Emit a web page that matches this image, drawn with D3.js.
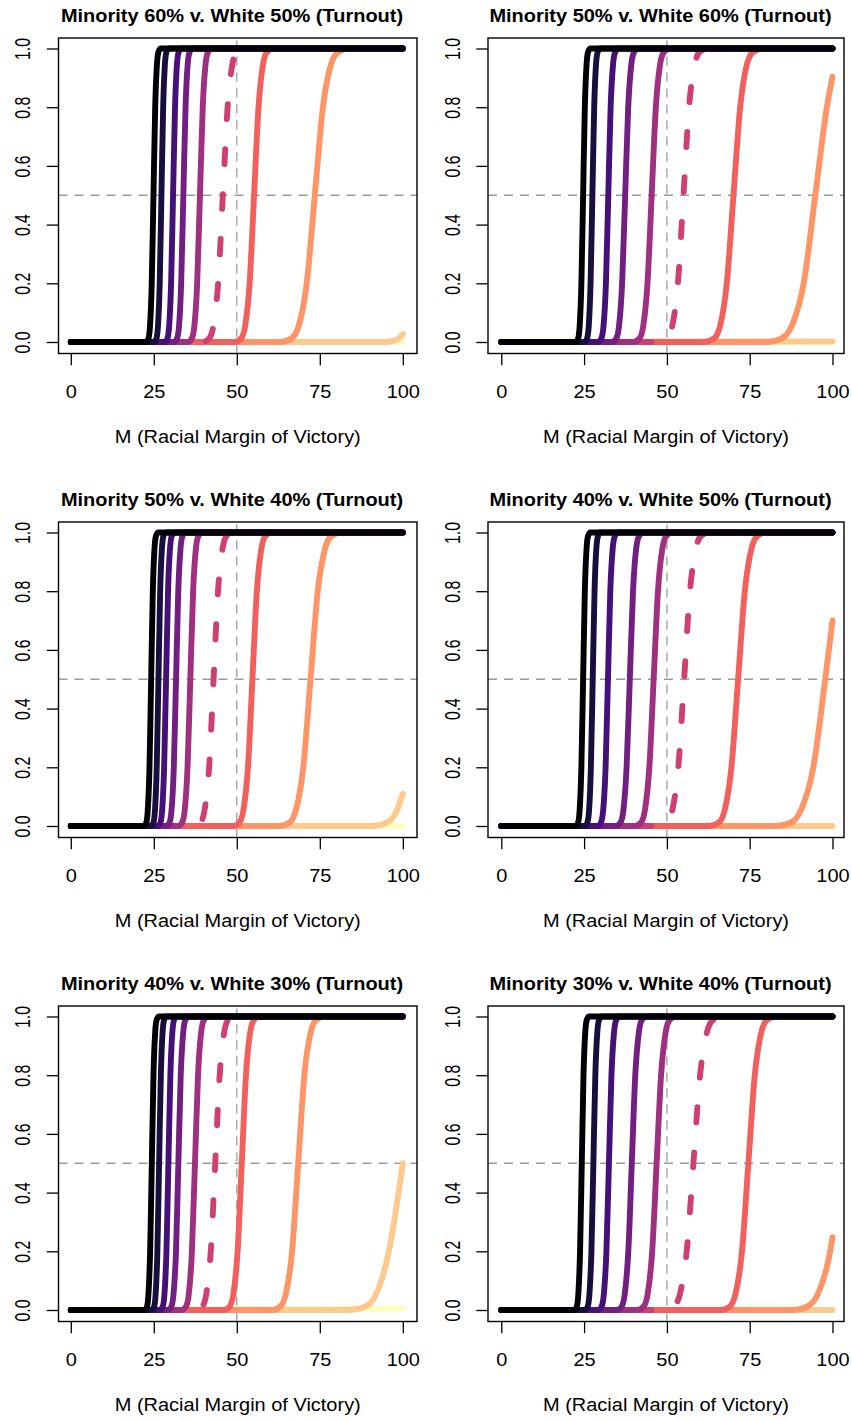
<!DOCTYPE html>
<html><head><meta charset="utf-8">
<script src="https://cdn.jsdelivr.net/npm/d3@7"></script>
<style>body{margin:0;background:#fff}svg{display:block}</style>
</head><body>
<script>
// ---------------- data ----------------
const panelTitles = [
  "Minority 60% v. White 50% (Turnout)",
  "Minority 50% v. White 60% (Turnout)",
  "Minority 50% v. White 40% (Turnout)",
  "Minority 40% v. White 50% (Turnout)",
  "Minority 40% v. White 30% (Turnout)",
  "Minority 30% v. White 40% (Turnout)"
];
const xAxisTitle = "M (Racial Margin of Victory)";
const xTickValues = [0, 25, 50, 75, 100];
const yTickValues = [0, 0.2, 0.4, 0.6, 0.8, 1.0];
const yTickLabels = ["0.0", "0.2", "0.4", "0.6", "0.8", "1.0"];
const curveColors = ["#000004", "#180F3E", "#451077", "#721F81", "#9F2F7F",
                     "#CD4071", "#F1605D", "#FD9567", "#FEC98D", "#FCFDBF"];
const dashedCurve = 5;
const refP = 0.5, refM = 50;

const pLevels = [0, 0.012, 0.055, 0.2, 0.5, 0.8, 0.945, 0.988, 1];

// A curve is either a list of M values (one per pLevel) or a list of [M, P] pairs.
const panel1Curves = [
  [22.7, 23.4, 23.86, 24.38, 24.9, 25.42, 25.94, 26.4, 27.1],
  [25.1, 25.8, 26.26, 26.78, 27.3, 27.82, 28.34, 28.8, 29.5],
  [28.3, 29.1, 29.63, 30.21, 30.8, 31.39, 31.97, 32.5, 33.3],
  [31.1, 32.0, 32.6, 33.24, 33.9, 34.56, 35.2, 35.8, 36.7],
  [35.3, 36.45, 37.22, 38.06, 38.9, 39.74, 40.58, 41.35, 42.5],
  [39.7, 41.65, 42.95, 44.37, 45.8, 47.23, 48.65, 49.95, 51.9],
  [49.5, 51.3, 52.52, 53.86, 55.2, 56.54, 57.88, 59.1, 60.9],
  [63.2, 66.4, 68.65, 71.06, 73.5, 75.94, 78.35, 80.6, 83.8],
  [[0,0],[94,0],[97,0.004],[99,0.014],[100,0.027]],
  [[0,0],[100,0.001]]
];
const panel2Curves = [
  [22.5, 23.2, 23.66, 24.18, 24.7, 25.22, 25.74, 26.2, 26.9],
  [25.2, 25.9, 26.41, 26.95, 27.5, 28.05, 28.59, 29.1, 29.8],
  [29.2, 30.2, 30.87, 31.59, 32.3, 33.01, 33.73, 34.4, 35.4],
  [33.4, 34.7, 35.55, 36.48, 37.4, 38.32, 39.25, 40.1, 41.4],
  [39.9, 41.7, 42.87, 44.14, 45.4, 46.66, 47.93, 49.1, 50.9],
  [47.7, 50.1, 51.63, 53.32, 55.0, 56.68, 58.37, 59.9, 62.3],
  [61.3, 64.2, 66.07, 68.08, 70.1, 72.12, 74.13, 76.0, 78.9],
  [[0,0],[80.5,0],[84.6,0.012],[87.7,0.055],[91.3,0.2],[94.8,0.5],[98.3,0.8],[100,0.904]],
  [[0,0],[100,0.002]],
  [[0,0],[100,0]]
];
const panel3Curves = [
  [22.0, 22.75, 23.19, 23.7, 24.2, 24.7, 25.21, 25.65, 26.4],
  [24.2, 24.9, 25.36, 25.88, 26.4, 26.92, 27.44, 27.9, 28.6],
  [26.2, 27.0, 27.52, 28.11, 28.7, 29.29, 29.88, 30.4, 31.2],
  [28.8, 29.75, 30.35, 31.03, 31.7, 32.37, 33.05, 33.65, 34.6],
  [32.4, 33.55, 34.32, 35.16, 36.0, 36.84, 37.68, 38.45, 39.6],
  [37.2, 39.1, 40.3, 41.66, 43.0, 44.34, 45.7, 46.9, 48.8],
  [48.9, 50.8, 52.0, 53.36, 54.7, 56.04, 57.4, 58.6, 60.5],
  [62.9, 65.9, 67.82, 70.02, 72.2, 74.38, 76.58, 78.5, 81.5],
  [[0,0],[91,0],[95,0.01],[98.1,0.05],[100,0.11]],
  [[0,0],[100,0.001]]
];
const panel4Curves = [
  [22.5, 23.2, 23.66, 24.18, 24.7, 25.22, 25.74, 26.2, 26.9],
  [25.3, 26.0, 26.51, 27.05, 27.6, 28.15, 28.69, 29.2, 29.9],
  [29.1, 30.1, 30.77, 31.49, 32.2, 32.91, 33.63, 34.3, 35.3],
  [34.6, 36.0, 36.88, 37.83, 38.8, 39.77, 40.72, 41.6, 43.0],
  [40.4, 42.2, 43.38, 44.7, 46.0, 47.3, 48.62, 49.8, 51.6],
  [47.6, 50.1, 51.65, 53.44, 55.2, 56.96, 58.75, 60.3, 62.8],
  [62.8, 65.7, 67.47, 69.48, 71.5, 73.52, 75.53, 77.3, 80.2],
  [[0,0],[83,0],[87.5,0.012],[90.5,0.055],[94.2,0.2],[97.8,0.5],[100,0.70]],
  [[0,0],[100,0]],
  [[0,0],[100,0]]
];
const panel5Curves = [
  [22.2, 22.95, 23.39, 23.9, 24.4, 24.9, 25.41, 25.85, 26.6],
  [24.4, 25.1, 25.56, 26.08, 26.6, 27.12, 27.64, 28.1, 28.8],
  [26.9, 27.7, 28.22, 28.81, 29.4, 29.99, 30.58, 31.1, 31.9],
  [29.3, 30.3, 30.95, 31.69, 32.4, 33.11, 33.85, 34.5, 35.5],
  [33.4, 34.7, 35.55, 36.48, 37.4, 38.32, 39.25, 40.1, 41.4],
  [37.8, 39.6, 40.82, 42.16, 43.5, 44.84, 46.18, 47.4, 49.2],
  [46.2, 47.85, 48.98, 50.24, 51.5, 52.76, 54.02, 55.15, 56.8],
  [60.8, 63.1, 64.77, 66.65, 68.5, 70.35, 72.23, 73.9, 76.2],
  [[0,0],[84,0],[88.4,0.01],[91.8,0.05],[95.8,0.2],[100,0.5]],
  [[0,0],[100,0.005]]
];
const panel6Curves = [
  [22.1, 22.8, 23.26, 23.78, 24.3, 24.82, 25.34, 25.8, 26.5],
  [25.3, 26.1, 26.62, 27.21, 27.8, 28.39, 28.98, 29.5, 30.3],
  [29.3, 30.3, 30.97, 31.74, 32.5, 33.26, 34.03, 34.7, 35.7],
  [35.0, 36.35, 37.28, 38.35, 39.4, 40.45, 41.52, 42.45, 43.8],
  [41.2, 43.0, 44.2, 45.56, 46.9, 48.24, 49.6, 50.8, 52.6],
  [49.5, 52.1, 53.95, 55.98, 58.0, 60.02, 62.05, 63.9, 66.5],
  [66.4, 69.0, 70.72, 72.67, 74.6, 76.53, 78.48, 80.2, 82.8],
  [[0,0],[88.3,0],[92.4,0.012],[95.6,0.055],[99.3,0.2],[100,0.248]],
  [[0,0],[100,0]],
  [[0,0],[100,0]]
];
const allPanels = [panel1Curves, panel2Curves, panel3Curves, panel4Curves, panel5Curves, panel6Curves];

// ---------------- layout ----------------
const W = 852, H = 1420;
const FONT = "'Liberation Sans', Arial, Helvetica, sans-serif";
const cols = [
  {r0: 70.8, r1: 402.8, b0: 58.5, b1: 417, titleX: 232},
  {r0: 501.3, r1: 832.5, b0: 488, b1: 844, titleX: 660.5}
];
const ROW = 484;
const TICK = 11.7, FS = 18.5, SX = 1.08;

function toPoints(curve) {
  if (Array.isArray(curve[0])) return curve;
  return [[0, 0]].concat(curve.map((m, j) => [m, pLevels[j]]), [[100, 1]]);
}

const svg = d3.select("body").append("svg").attr("width", W).attr("height", H);
const defs = svg.append("defs");

allPanels.forEach((curves, i) => {
  const c = cols[i % 2], r = Math.floor(i / 2), oy = ROW * r;
  const x = d3.scaleLinear().domain([0, 100]).range([c.r0, c.r1]);
  const y = d3.scaleLinear().domain([0, 1]).range([342 + oy, 48.5 + oy]);
  const bTop = 38 + oy, bBot = 353.5 + oy;
  const g = svg.append("g");

  const clipId = "clip" + i;
  defs.append("clipPath").attr("id", clipId).append("rect")
    .attr("x", c.b0).attr("y", bTop).attr("width", c.b1 - c.b0).attr("height", bBot - bTop);

  const plot = g.append("g").attr("clip-path", `url(#${clipId})`);
  plot.append("line").attr("x1", c.b0).attr("x2", c.b1).attr("y1", y(refP)).attr("y2", y(refP))
    .attr("stroke", "#9a9a9a").attr("stroke-width", 1.3).attr("stroke-dasharray", "9,7");
  plot.append("line").attr("x1", x(refM)).attr("x2", x(refM)).attr("y1", bBot).attr("y2", bTop)
    .attr("stroke", "#9a9a9a").attr("stroke-width", 1.3).attr("stroke-dasharray", "9,7");

  const line = d3.line().x(d => x(d[0])).y(d => y(d[1])).curve(d3.curveMonotoneX);
  for (let k = curves.length - 1; k >= 0; k--) {
    plot.append("path").attr("d", line(toPoints(curves[k])))
      .attr("fill", "none").attr("stroke", curveColors[k])
      .attr("stroke-width", 5.9).attr("stroke-linecap", "round").attr("stroke-linejoin", "round")
      .attr("stroke-dasharray", k === dashedCurve ? "15,30" : null);
  }

  g.append("rect").attr("x", c.b0).attr("y", bTop).attr("width", c.b1 - c.b0).attr("height", bBot - bTop)
    .attr("fill", "none").attr("stroke", "#000").attr("stroke-width", 1.4);

  const xa = g.append("g").attr("transform", `translate(0,${bBot})`)
    .call(d3.axisBottom(x).tickValues(xTickValues).tickSize(TICK).tickSizeOuter(0));
  xa.select(".domain").remove();
  xa.selectAll(".tick line").attr("stroke", "#000").attr("stroke-width", 1.3);
  xa.selectAll(".tick text").attr("y", 44.8).attr("dy", null)
    .attr("fill", "#000").attr("font-family", FONT).attr("font-size", FS)
    .attr("transform", `scale(${SX},1)`);

  const ya = g.append("g").attr("transform", `translate(${c.b0},0)`)
    .call(d3.axisLeft(y).tickValues(yTickValues).tickFormat((d, j) => yTickLabels[j]).tickSize(TICK).tickSizeOuter(0));
  ya.select(".domain").remove();
  ya.selectAll(".tick line").attr("stroke", "#000").attr("stroke-width", 1.3);
  ya.selectAll(".tick text").attr("x", 0).attr("y", 0).attr("dy", null)
    .attr("text-anchor", "middle").attr("fill", "#000")
    .attr("font-family", FONT).attr("font-size", 15.8)
    .attr("transform", `translate(-28.5,0) scale(1.34,1) rotate(-90)`);

  g.append("text").attr("transform", `translate(${c.titleX},${21.5 + oy}) scale(${SX},1)`)
    .attr("text-anchor", "middle").attr("font-family", FONT).attr("font-weight", "bold")
    .attr("font-size", FS).attr("fill", "#000").text(panelTitles[i]);
  g.append("text").attr("transform", `translate(${(c.b0 + c.b1) / 2},${442.5 + oy}) scale(${SX},1)`)
    .attr("text-anchor", "middle").attr("font-family", FONT)
    .attr("font-size", FS).attr("fill", "#000").text(xAxisTitle);
});
</script>
</body></html>
